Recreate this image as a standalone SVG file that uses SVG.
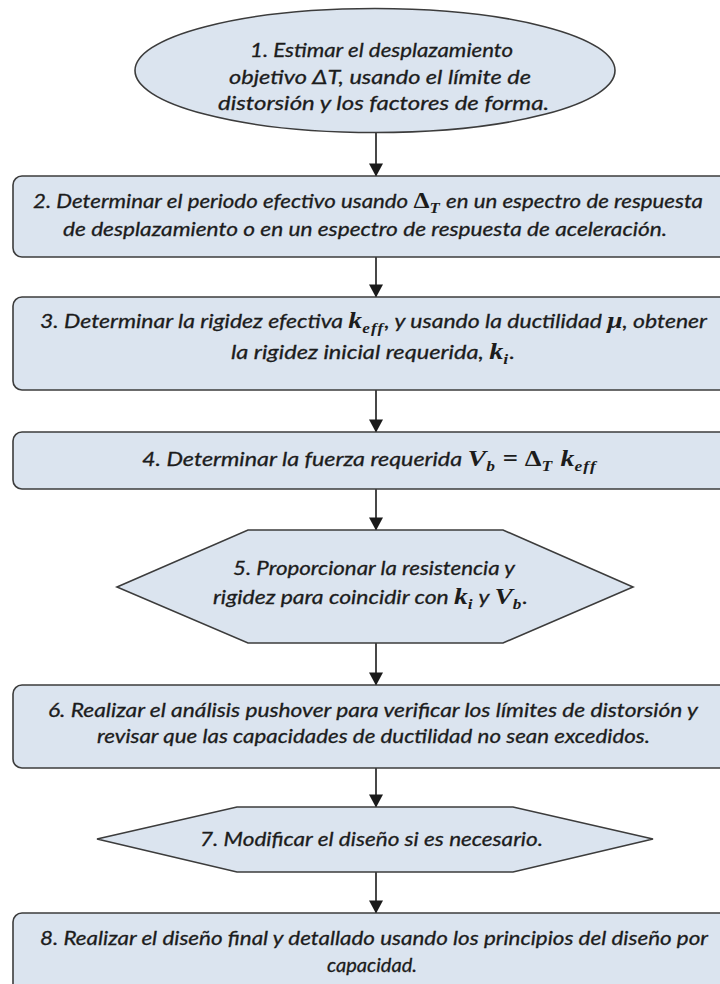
<svg xmlns="http://www.w3.org/2000/svg" width="720" height="984" viewBox="0 0 720 984">
  <style>
    .shape { fill: #dbe4ef; stroke: #3c3c3c; stroke-width: 1.6; }
    .lbl { font-family: Lato, "Liberation Sans", sans-serif; font-style: italic; font-size: 20px; fill: #1c1c1c; stroke: #1c1c1c; stroke-width: 0.3; }
    .m { font-family: "Liberation Serif", "DejaVu Serif", serif; font-style: italic; font-weight: bold; font-size: 24px; stroke: none; }
    .mu { font-family: "Liberation Serif", "DejaVu Serif", serif; font-style: normal; font-weight: bold; font-size: 23px; stroke: none; }
    .sub { font-family: "Liberation Serif", "DejaVu Serif", serif; font-style: italic; font-weight: bold; font-size: 15px; letter-spacing: 1px; stroke: none; }
    .edge { stroke: #1a1a1a; stroke-width: 1.6; fill: none; marker-end: url(#arrow); }
  </style>
  <defs>
    <marker id="arrow" markerUnits="userSpaceOnUse" markerWidth="14" markerHeight="14" viewBox="0 0 13 14" refX="12.5" refY="7" orient="auto">
      <path d="M0,0 L13,7 L0,14 Z" fill="#1a1a1a"/>
    </marker>
  </defs>
  <rect width="720" height="984" fill="#ffffff"/>

  <!-- connectors -->
  <g id="connectors">
    <line class="edge" x1="376" y1="133" x2="376" y2="176"/>
    <line class="edge" x1="376" y1="257" x2="376" y2="297"/>
    <line class="edge" x1="376" y1="390" x2="376" y2="432"/>
    <line class="edge" x1="376" y1="489" x2="376" y2="530"/>
    <line class="edge" x1="376" y1="643" x2="376" y2="685"/>
    <line class="edge" x1="376" y1="768" x2="376" y2="807"/>
    <line class="edge" x1="376" y1="872" x2="376" y2="913"/>
  </g>

  <!-- step 1: start ellipse -->
  <g id="step1">
    <ellipse class="shape" cx="375" cy="70.5" rx="240" ry="62"/>
    <text class="lbl" x="250" y="57" textLength="263" lengthAdjust="spacingAndGlyphs">1. Estimar el desplazamiento</text>
    <text class="lbl" x="229" y="84" textLength="302" lengthAdjust="spacingAndGlyphs">objetivo ΔT, usando el límite de</text>
    <text class="lbl" x="218" y="110" textLength="331" lengthAdjust="spacingAndGlyphs">distorsión y los factores de forma.</text>
  </g>

  <!-- step 2 -->
  <g id="step2">
    <rect class="shape" x="13" y="176" width="715" height="81" rx="9"/>
    <text class="lbl" x="33" y="208" textLength="670" lengthAdjust="spacingAndGlyphs">2. Determinar el periodo efectivo usando <tspan class="mu">Δ</tspan><tspan class="sub" dy="5">T</tspan><tspan dy="-5"> en un espectro de respuesta</tspan></text>
    <text class="lbl" x="63" y="236" textLength="604" lengthAdjust="spacingAndGlyphs">de desplazamiento o en un espectro de respuesta de aceleración.</text>
  </g>

  <!-- step 3 -->
  <g id="step3">
    <rect class="shape" x="13" y="297" width="715" height="93" rx="9"/>
    <text class="lbl" x="40" y="328" textLength="667" lengthAdjust="spacingAndGlyphs">3. Determinar la rigidez efectiva <tspan class="m">k</tspan><tspan class="sub" dy="5">eff</tspan><tspan dy="-5">, y usando la ductilidad </tspan><tspan class="m">μ</tspan>, obtener</text>
    <text class="lbl" x="231" y="359" textLength="284" lengthAdjust="spacingAndGlyphs">la rigidez inicial requerida, <tspan class="m">k</tspan><tspan class="sub" dy="5">i</tspan><tspan dy="-5">.</tspan></text>
  </g>

  <!-- step 4 -->
  <g id="step4">
    <rect class="shape" x="13" y="432" width="715" height="57" rx="9"/>
    <text class="lbl" x="142" y="466" textLength="455" lengthAdjust="spacingAndGlyphs">4. Determinar la fuerza requerida <tspan class="m">V</tspan><tspan class="sub" dy="5">b</tspan><tspan class="mu" dy="-5"> = Δ</tspan><tspan class="sub" dy="5">T</tspan><tspan class="m" dy="-5"> k</tspan><tspan class="sub" dy="5">eff</tspan></text>
  </g>

  <!-- step 5: hexagon -->
  <g id="step5">
    <polygon class="shape" points="117,587 248,530 503,530 633,587 503,643 248,643"/>
    <text class="lbl" x="233" y="575" textLength="282" lengthAdjust="spacingAndGlyphs">5. Proporcionar la resistencia y</text>
    <text class="lbl" x="213" y="604" textLength="315" lengthAdjust="spacingAndGlyphs">rigidez para coincidir con <tspan class="m">k</tspan><tspan class="sub" dy="5">i</tspan><tspan dy="-5"> y </tspan><tspan class="m">V</tspan><tspan class="sub" dy="5">b</tspan><tspan dy="-5">.</tspan></text>
  </g>

  <!-- step 6 -->
  <g id="step6">
    <rect class="shape" x="13" y="685" width="715" height="83" rx="9"/>
    <text class="lbl" x="48" y="717" textLength="650" lengthAdjust="spacingAndGlyphs">6. Realizar el análisis pushover para verificar los límites de distorsión y</text>
    <text class="lbl" x="97" y="743" textLength="553" lengthAdjust="spacingAndGlyphs">revisar que las capacidades de ductilidad no sean excedidos.</text>
  </g>

  <!-- step 7: hexagon -->
  <g id="step7">
    <polygon class="shape" points="97,839 237,807 513,807 653,839 513,872 237,872"/>
    <text class="lbl" x="200" y="846" textLength="343" lengthAdjust="spacingAndGlyphs">7. Modificar el diseño si es necesario.</text>
  </g>

  <!-- step 8 -->
  <g id="step8">
    <rect class="shape" x="13" y="913" width="715" height="90" rx="9"/>
    <text class="lbl" x="40" y="945" textLength="668" lengthAdjust="spacingAndGlyphs">8. Realizar el diseño final y detallado usando los principios del diseño por</text>
    <text class="lbl" x="327" y="972" textLength="90" lengthAdjust="spacingAndGlyphs">capacidad.</text>
  </g>
</svg>
